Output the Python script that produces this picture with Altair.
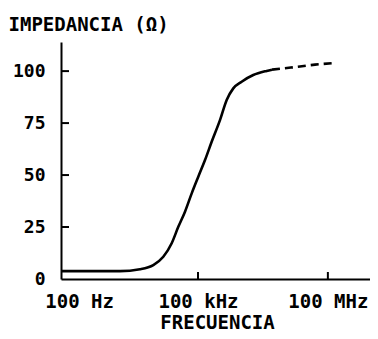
import altair as alt
import pandas as pd

# Solid part of the impedance curve (frequency in Hz, impedance in ohm)
freq_solid = [68.5, 630, 1580, 4570, 9290, 15800, 24700, 35100, 50100, 71600,
              101600, 145200, 207000, 322000, 460000, 653000, 1020000,
              1890000, 3860000, 5120000]
imp_solid = [3.8, 3.8, 3.8, 4.7, 6.7, 10.7, 17.2, 25.1, 32.4, 41.2,
             49.2, 57.2, 66.0, 76.4, 86.1, 91.7, 94.9,
             98.1, 100.1, 100.7]
# Dashed (extrapolated) part
freq_dash = [5120000, 10200000, 22700000, 50400000, 131000000]
imp_dash = [100.7, 101.4, 102.2, 103.1, 103.8]

x_ticks = [100, 100000, 100000000]
x_tick_marks = [100000, 100000000]
y_ticks = [0, 25, 50, 75, 100]
y_tick_marks = [25, 50, 75, 100]

FONT = "DejaVu Sans Mono"
W, H = 309, 237

solid = pd.DataFrame({"f": freq_solid, "z": imp_solid})
dash = pd.DataFrame({"f": freq_dash, "z": imp_dash})
xt = pd.DataFrame({"f": x_tick_marks})
yt = pd.DataFrame({"z": y_tick_marks})

xscale = alt.Scale(type="log", domain=[68.5, 9.4e8])
yscale = alt.Scale(domain=[0, 114])

label_expr = ("datum.value == 100 ? '100 Hz' : datum.value == 100000 ? '100 kHz' : "
              "datum.value == 100000000 ? '100 MHz' : ''")

solid_layer = alt.Chart(solid).mark_line(
    color="black", strokeWidth=2.6, interpolate="monotone"
).encode(
    x=alt.X("f:Q", scale=xscale, axis=alt.Axis(
        orient="bottom", values=x_ticks, labelExpr=label_expr, ticks=False, tickSize=0,
        grid=False, domainColor="black", domainWidth=2,
        labelFont=FONT, labelFontSize=19, labelFontWeight="bold", labelColor="black",
        labelBaseline="alphabetic", labelPadding=28,
        labelOffset={"condition": {"test": "datum.value == 100", "value": 11}, "value": 0},
        title="FRECUENCIA", titleFont=FONT, titleFontSize=19, titleFontWeight="bold",
        titleColor="black", titleBaseline="alphabetic", titleY=49, titleX=156)),
    y=alt.Y("z:Q", scale=yscale, axis=alt.Axis(
        orient="left", values=y_ticks, ticks=False, tickSize=0, grid=False,
        domainColor="black", domainWidth=2,
        labelFont=FONT, labelFontSize=18, labelFontWeight="bold", labelColor="black",
        labelPadding=16,
        title="IMPEDANCIA (Ω)", titleFont=FONT, titleFontSize=19, titleFontWeight="bold",
        titleColor="black", titleAngle=0, titleAlign="left", titleBaseline="alphabetic",
        titleX=-53, titleY=-12)),
)

dash_layer = alt.Chart(dash).mark_line(
    color="black", strokeWidth=2.6, strokeDash=[8, 5], interpolate="monotone"
).encode(
    x=alt.X("f:Q", scale=xscale),
    y=alt.Y("z:Q", scale=yscale),
)

# inward-pointing tick marks
y_tick_layer = alt.Chart(yt).mark_tick(
    color="black", thickness=2, orient="horizontal", opacity=1
).encode(
    y=alt.Y("z:Q", scale=yscale),
    x=alt.value(4),
    size=alt.value(8),
)

x_tick_layer = alt.Chart(xt).mark_tick(
    color="black", thickness=2, orient="vertical", opacity=1
).encode(
    x=alt.X("f:Q", scale=xscale),
    y=alt.value(H - 3.5),
    size=alt.value(7),
)

chart = alt.layer(solid_layer, dash_layer, y_tick_layer, x_tick_layer).properties(
    width=W, height=H,
    background="white",
    autosize=alt.AutoSizeParams(type="none"),
    padding={"left": 53, "top": 34, "right": 0, "bottom": 52},
).configure_view(stroke=None)

chart.save("out.html", embed_options={"renderer": "svg", "actions": False})
